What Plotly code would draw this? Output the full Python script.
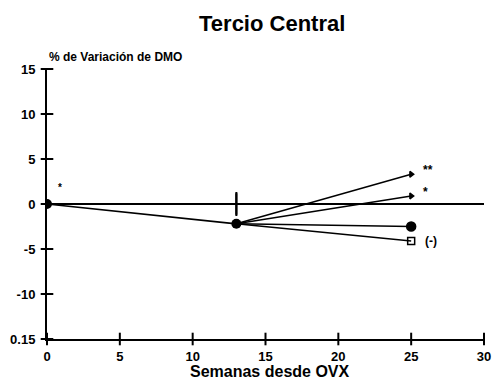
import plotly.graph_objects as go

# Weeks since ovariectomy and % change in BMD (central third)
weeks = [0, 13, 25]
base_values = [0, -2.2]              # common path up to week 13
branch_ends = [3.3, 0.9, -2.5, -4.1]  # values at week 25 for each group
branch_symbols = ["triangle-right", "triangle-right", "circle", "square-open"]
branch_sizes = [5, 5, 9, 7]
branch_labels = ["**", "*", "", "(-)"]

sham_point = [13, 0]
sham_err = 1.2

x_ticks = [0, 5, 10, 15, 20, 25, 30]
y_ticks = [15, 10, 5, 0, -5, -10, -15]
y_ticktext = ["15", "10", "5", "0", "-5", "-10", "0.15"]
x_range = [0, 30]
y_range = [-15, 15]

font_family = "Liberation Sans, Arial, sans-serif"

fig = go.Figure()

# branches from week 13 to week 25
for end, sym, size in zip(branch_ends, branch_symbols, branch_sizes):
    fig.add_trace(go.Scatter(
        x=weeks[1:], y=[base_values[1], end], mode="lines+markers",
        line=dict(color="black", width=1.5),
        marker=dict(symbol=["circle", sym], size=[1, size], color="black",
                    opacity=1, line=dict(color="black", width=1.5)),
        showlegend=False, hoverinfo="skip"))

# common path week 0 -> 13
fig.add_trace(go.Scatter(
    x=weeks[:2], y=base_values, mode="lines+markers",
    line=dict(color="black", width=1.7),
    marker=dict(symbol="circle", size=10, color="black", opacity=1),
    showlegend=False, hoverinfo="skip"))

# sham group at week 13 with error bar
fig.add_trace(go.Scatter(
    x=[sham_point[0]], y=[sham_point[1]], mode="markers",
    marker=dict(symbol="line-ew", size=4, color="black", opacity=1,
                line=dict(color="black", width=1)),
    error_y=dict(type="constant", value=sham_err, color="black",
                 thickness=2.5, width=1),
    showlegend=False, hoverinfo="skip"))

# tick marks that cross the axis lines
fig.add_trace(go.Scatter(
    x=x_ticks, y=[y_range[0]] * len(x_ticks), mode="markers", cliponaxis=False,
    marker=dict(symbol="line-ns", size=9, line=dict(color="black", width=2)),
    showlegend=False, hoverinfo="skip"))
fig.add_trace(go.Scatter(
    x=[x_range[0]] * len(y_ticks), y=y_ticks, mode="markers", cliponaxis=False,
    marker=dict(symbol="line-ew", size=9, line=dict(color="black", width=2)),
    showlegend=False, hoverinfo="skip"))

# significance labels beside branch ends
for end, lab in zip(branch_ends, branch_labels):
    if lab:
        fig.add_annotation(x=weeks[2], y=end, text="<b>%s</b>" % lab,
                           xanchor="left", xshift=10 if lab != "(-)" else 12,
                           yshift=4 if lab != "(-)" else 0,
                           showarrow=False,
                           font=dict(family=font_family, size=12, color="black"))
fig.add_annotation(x=0.9, y=1.8, text="<b>*</b>", showarrow=False,
                   font=dict(family=font_family, size=10, color="black"))

tick_font = dict(family=font_family, size=13, color="black")
axis_common = dict(showgrid=False, linecolor="black", linewidth=2,
                   ticks="", automargin=False, tickfont=tick_font)

fig.update_layout(
    width=494, height=380,
    margin=dict(l=47, r=10, t=69, b=41),
    paper_bgcolor="white", plot_bgcolor="white",
    title=dict(text="<b>Tercio Central</b>", x=0.551, xanchor="center",
               y=0.939, yanchor="middle",
               font=dict(family=font_family, size=22, color="black")),
    xaxis=dict(range=x_range, tickvals=x_ticks,
               ticktext=["<b>%d</b>" % v for v in x_ticks],
               ticklabelstandoff=4, **axis_common),
    yaxis=dict(range=y_range, tickvals=y_ticks,
               ticktext=["<b>%s</b>" % t for t in y_ticktext],
               ticklabelstandoff=7,
               zeroline=True, zerolinecolor="black", zerolinewidth=1.8,
               **axis_common),
)

fig.add_annotation(xref="paper", yref="paper", x=0.51, y=0, yshift=-32,
                   xanchor="center", yanchor="middle",
                   text="<b>Semanas desde OVX</b>", showarrow=False,
                   font=dict(family=font_family, size=16, color="black"))

fig.add_annotation(xref="paper", yref="paper", x=0.0, y=1.0, yshift=12,
                   xanchor="left", yanchor="middle",
                   text="<b>% de Variación de DMO</b>", showarrow=False,
                   font=dict(family=font_family, size=12, color="black"))

fig.write_html("out.html")
